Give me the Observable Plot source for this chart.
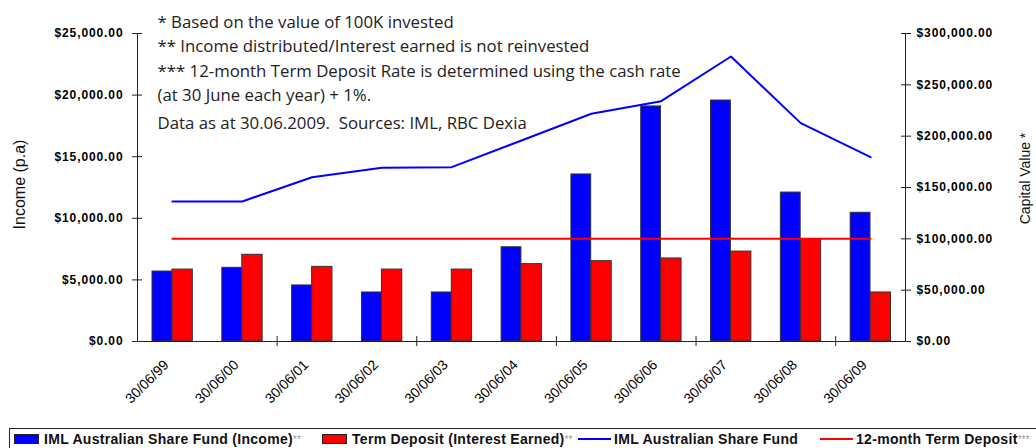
<!DOCTYPE html>
<html>
<head>
<meta charset="utf-8">
<script src="https://cdn.jsdelivr.net/npm/d3@7"></script>
<script src="https://cdn.jsdelivr.net/npm/@observablehq/plot@0.6"></script>
<style>
  html, body { margin: 0; padding: 0; background: #fff; }
  #wrap { position: relative; width: 1036px; height: 448px; overflow: hidden; }
  #chart svg { display: block; }
  g[aria-label="y-axis tick label"] text { letter-spacing: 0.9px; }
  #legend {
    position: absolute; left: 9px; top: 428px; width: 1100px; height: 40px;
    border-top: 1px solid #222; border-left: 1px solid #222;
    font-family: "Liberation Sans", Arial, sans-serif; font-weight: bold; font-size: 14px;
    letter-spacing: 0.3px; color: #111; white-space: nowrap;
  }
  #legend .item { position: absolute; top: 2px; display: flex; align-items: center; }
  #legend .sw { display: inline-block; width: 23px; height: 8px; border: 1px solid #222; margin-right: 5px; }
  #legend .ln { display: inline-block; width: 33px; height: 2px; margin-right: 3px; }
  #legend sup { font-size: 10px; color: #999; font-weight: normal; vertical-align: 4px; letter-spacing: 0; }
</style>
</head>
<body>
<div id="wrap">
  <div id="chart"></div>
  <div id="legend"></div>
</div>
<script>
const dates = ["30/06/99","30/06/00","30/06/01","30/06/02","30/06/03","30/06/04","30/06/05","30/06/06","30/06/07","30/06/08","30/06/09"];
const imlIncome = [5680, 5980, 4550, 3980, 3980, 7650, 13560, 19080, 19560, 12090, 10450];
const depositInterest = [5840, 7040, 6060, 5840, 5840, 6280, 6520, 6740, 7300, 8280, 3980];
const imlCapital = [136400, 136400, 160000, 169200, 169800, 195800, 221800, 234100, 277600, 212700, 179500];
const depositCapital = [100000, 100000, 100000, 100000, 100000, 100000, 100000, 100000, 100000, 100000, 100000];
const leftTicks = [0, 5000, 10000, 15000, 20000, 25000];
const rightTicks = [0, 50000, 100000, 150000, 200000, 250000, 300000];
const xTickDates = ["30/06/01","30/06/03","30/06/05","30/06/07","30/06/09"];
const notes = [
  "* Based on the value of 100K invested",
  "** Income distributed/Interest earned is not reinvested",
  "*** 12-month Term Deposit Rate is determined using the cash rate",
  "(at 30 June each year) + 1%."
];
const sourceNote = "Data as at 30.06.2009.  Sources: IML, RBC Dexia";
const leftTitle = "Income (p.a)";
const rightTitle = "Capital Value *";
const legendItems = [
  {label: "IML Australian Share Fund (Income)", sup: "**", color: "#0000ff", kind: "bar", left: 4},
  {label: "Term Deposit (Interest Earned)", sup: "**", color: "#ff0000", kind: "bar", left: 312},
  {label: "IML Australian Share Fund", sup: "", color: "#0000ff", kind: "line", left: 568},
  {label: "12-month Term Deposit", sup: "***", color: "#ff0000", kind: "line", left: 810}
];

const ratio = 300000 / 25000; // right axis / left axis
const rows = dates.map((d, i) => ({
  date: d,
  income: imlIncome[i],
  interest: depositInterest[i],
  capital: imlCapital[i],
  deposit: depositCapital[i]
}));

const W = 1036, H = 424, mL = 137, mR = 131, mT = 33, mB = 83;
const bw = (W - mL - mR) / dates.length;
const fmt = d3.format("$,.2f");
const axisFont = {fontSize: 12, fontWeight: "bold"};
const noteFont = {fontSize: 16.8, fontFamily: "'Open Sans', sans-serif", fill: "#222"};

const chart = Plot.plot({
  width: W, height: H,
  marginLeft: mL, marginRight: mR, marginTop: mT, marginBottom: mB,
  style: {fontFamily: "'Liberation Sans', Arial, sans-serif", color: "#000", background: "#fff"},
  x: {type: "band", domain: dates, padding: 0, round: false},
  y: {domain: [0, 25000]},
  marks: [
    Plot.barY(rows, {x: "date", y: "income", fill: "#0000ff", stroke: "#333", strokeWidth: 1, insetLeft: 15, insetRight: 35}),
    Plot.barY(rows, {x: "date", y: "interest", fill: "#ff0000", stroke: "#333", strokeWidth: 1, insetLeft: 35, insetRight: 14.5}),
    Plot.line(rows, {x: "date", y: d => d.capital / ratio, stroke: "#0000ff", strokeWidth: 2}),
    Plot.line(rows, {x: "date", y: d => d.deposit / ratio, stroke: "#ff0000", strokeWidth: 2}),
    // axis lines
    Plot.ruleY([0], {stroke: "#222"}),
    Plot.ruleX([dates[0]], {y1: 0, y2: 25000, dx: -bw / 2, stroke: "#222"}),
    Plot.ruleX([dates[dates.length - 1]], {y1: 0, y2: 25000, dx: bw / 2, stroke: "#222"}),
    // left axis
    Plot.axisY(leftTicks, {anchor: "left", tickSize: 10, dx: 5, tickFormat: () => "", label: null, stroke: "#222"}),
    Plot.axisY(leftTicks, {anchor: "left", tickSize: 0, tickPadding: 14, tickFormat: fmt, label: null, ...axisFont}),
    // right axis
    Plot.axisY(rightTicks.map(v => v / ratio), {anchor: "right", tickSize: 10, dx: -5, tickFormat: () => "", label: null, stroke: "#222"}),
    Plot.axisY(rightTicks.map(v => v / ratio), {anchor: "right", tickSize: 0, tickPadding: 11, tickFormat: v => fmt(Math.round(v * ratio)), label: null, ...axisFont}),
    // x axis
    Plot.axisX(xTickDates, {tickSize: 10, dy: -5, dx: -bw / 2, tickFormat: () => "", label: null, stroke: "#222"}),
    Plot.axisX({tickSize: 0, tickPadding: 21, tickRotate: -45, dx: -6, fontSize: 14, label: null}),
    // axis titles
    Plot.text([leftTitle], {frameAnchor: "left", text: d => d, rotate: -90, textAnchor: "middle", dx: -118, dy: -3, fontSize: 16, fill: "#111"}),
    Plot.text([rightTitle], {frameAnchor: "right", text: d => d, rotate: -90, textAnchor: "middle", dx: 120, dy: -9, fontSize: 14, fill: "#111"}),
    // notes
    Plot.text([notes.join("\n")], {frameAnchor: "top-left", text: d => d, textAnchor: "start", lineAnchor: "top", lineHeight: 1.45, dx: 20, dy: -23, ...noteFont}),
    Plot.text([sourceNote], {frameAnchor: "top-left", text: d => d, textAnchor: "start", lineAnchor: "top", dx: 20, dy: 84, ...noteFont})
  ]
});
document.getElementById("chart").appendChild(chart);

const legend = document.getElementById("legend");
for (const it of legendItems) {
  const el = document.createElement("div");
  el.className = "item";
  el.style.left = it.left + "px";
  const sw = document.createElement("span");
  if (it.kind === "bar") { sw.className = "sw"; sw.style.background = it.color; }
  else { sw.className = "ln"; sw.style.background = it.color; }
  el.appendChild(sw);
  const t = document.createElement("span");
  t.textContent = it.label;
  el.appendChild(t);
  if (it.sup) { const s = document.createElement("sup"); s.textContent = it.sup; el.appendChild(s); }
  legend.appendChild(el);
}
</script>
</body>
</html>
